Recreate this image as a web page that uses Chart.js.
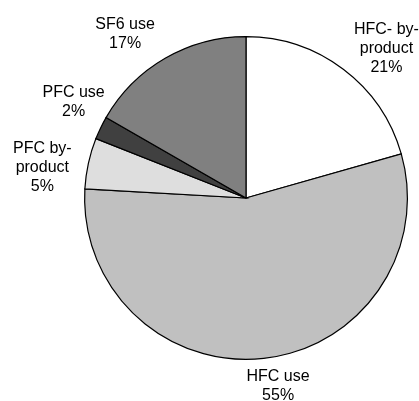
<!DOCTYPE html>
<html>
<head>
<meta charset="utf-8">
<script src="https://cdn.jsdelivr.net/npm/chart.js@4"></script>
<style>
    html, body { margin: 0; padding: 0; background: #ffffff; }
    #wrap { width: 419px; height: 401px; }
</style>
</head>
<body>
<div id="wrap"><canvas id="pieChart" width="419" height="401"></canvas></div>
<script>
// Data
const categories = ['HFC- by-product', 'HFC use', 'PFC by-product', 'PFC use', 'SF6 use'];
const shares = [20.6, 55.3, 5.1, 2.3, 16.7];
const pctLabels = ['21%', '55%', '5%', '2%', '17%'];
const labelLines = [['HFC- by-', 'product'], ['HFC use'], ['PFC by-', 'product'], ['PFC use'], ['SF6 use']];

// Styles
const sliceColors = ['#ffffff', '#c0c0c0', '#dedede', '#404040', '#808080'];
const labelNudge = [[19, 11], [10, -12], [-7, 13], [9, -8], [-20, 10]];
const LABEL_GAP = 40;
const LINE_H = 19;

// Label Plugin
const sliceLabels = {
    id: 'sliceLabels',
    afterDraw(chart) {
        const ctx = chart.ctx;
        const arcs = chart.getDatasetMeta(0).data;
        ctx.save();
        ctx.font = '16px "Liberation Sans", Arial, sans-serif';
        ctx.fillStyle = '#000000';
        ctx.textAlign = 'center';
        ctx.textBaseline = 'middle';
        arcs.forEach((arc, i) => {
            const mid = (arc.startAngle + arc.endAngle) / 2;
            const dist = arc.outerRadius + LABEL_GAP;
            const x = arc.x + Math.cos(mid) * dist + labelNudge[i][0];
            const y = arc.y + Math.sin(mid) * dist + labelNudge[i][1];
            const lines = labelLines[i].concat([pctLabels[i]]);
            const top = y - (lines.length - 1) * LINE_H / 2;
            lines.forEach((txt, k) => ctx.fillText(txt, x, top + k * LINE_H));
        });
        ctx.restore();
    }
};

// Chart Setup
const ctx = document.getElementById('pieChart').getContext('2d');
const pieChart = new Chart(ctx, {
    type: 'pie',
    data: {
        labels: categories,
        datasets: [{
            data: shares,
            backgroundColor: sliceColors,
            borderColor: '#000000',
            borderWidth: 1.2,
            borderJoinStyle: 'miter'
        }]
    },
    options: {
        responsive: false,
        animation: false,
        layout: { padding: { left: 84, right: 11, top: 36, bottom: 41 } },
        plugins: {
            legend: { display: false },
            tooltip: { enabled: false }
        }
    },
    plugins: [sliceLabels]
});
</script>
</body>
</html>
